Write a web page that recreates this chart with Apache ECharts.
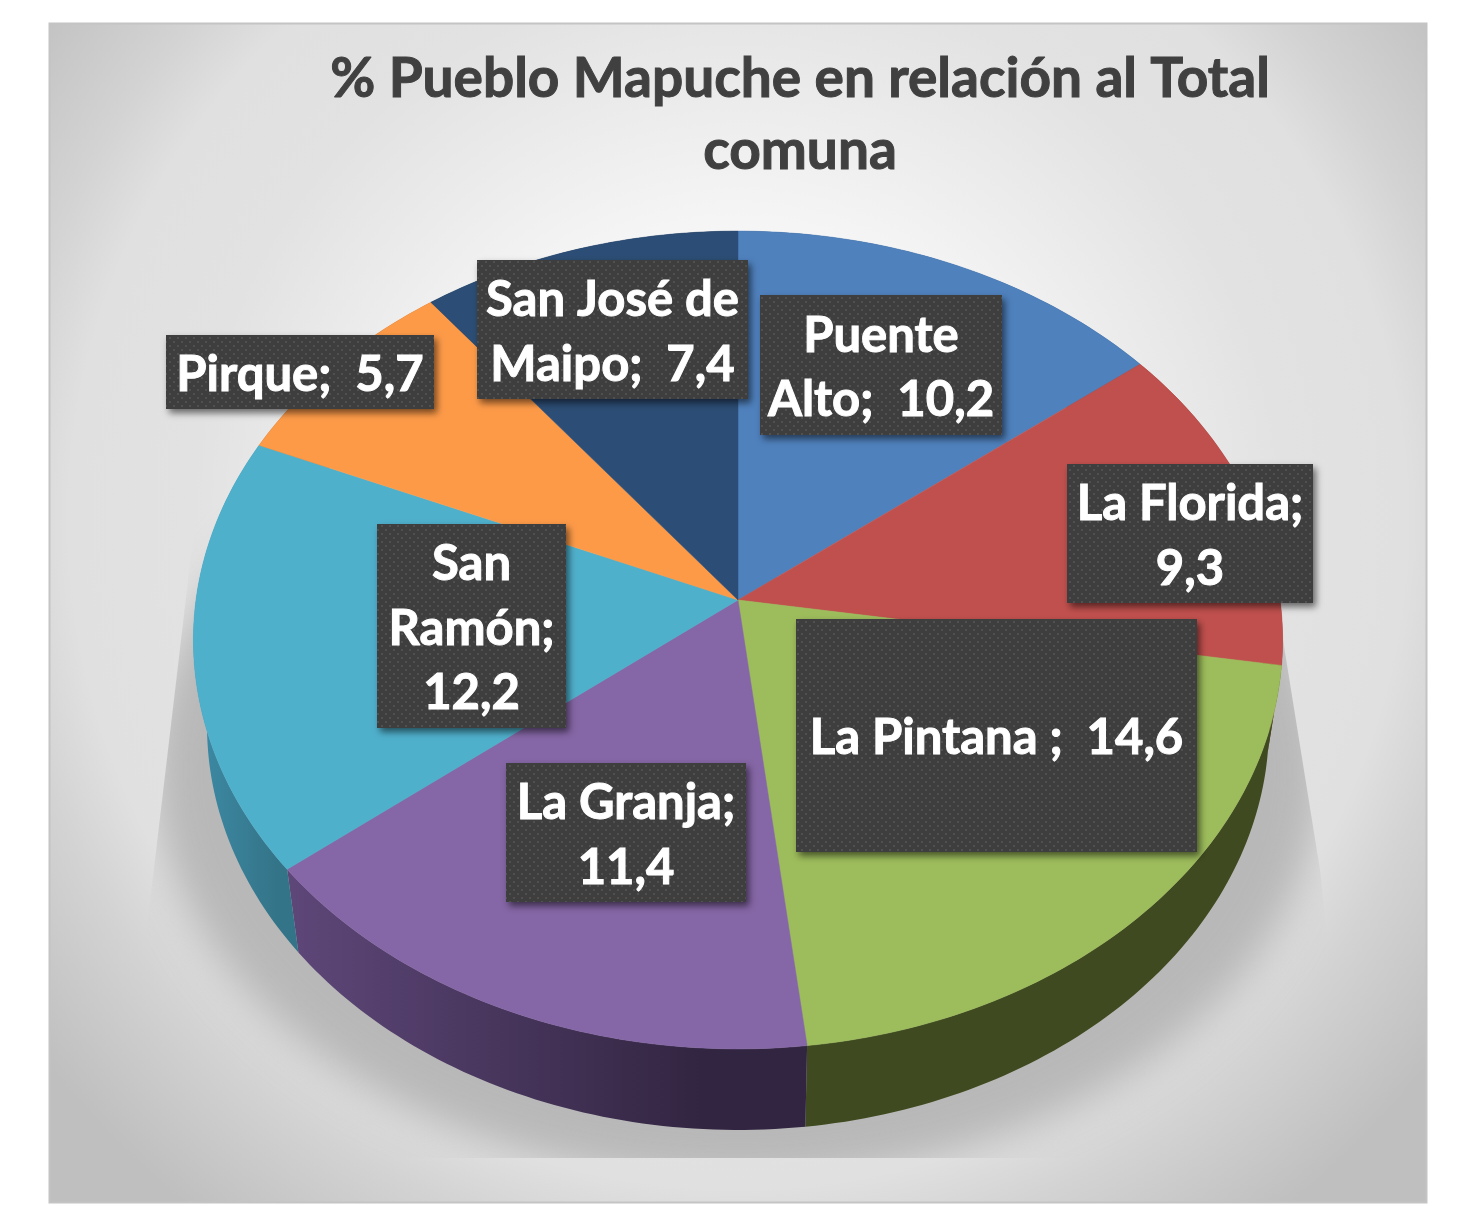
<!DOCTYPE html>
<html><head><meta charset="utf-8">
<style>html,body{margin:0;padding:0;background:#fff}#c{width:1463px;height:1206px}</style>
<script src="https://cdn.jsdelivr.net/npm/echarts@6/dist/echarts.min.js"></script>
</head><body><div id="c"></div>
<script>
const comunas = ['Puente Alto','La Florida','La Pintana','La Granja','San Ramón','Pirque','San José de Maipo'];
const valores = [10.2, 9.3, 14.6, 11.4, 12.2, 5.7, 7.4];
const etiquetas = ['Puente\nAlto;  10,2','La Florida;\n9,3','La Pintana ;  14,6','La Granja;\n11,4','San\nRamón;\n12,2','Pirque;  5,7','San José de\nMaipo;  7,4'];
const titulo = '% Pueblo Mapuche en relación al Total\ncomuna';
const coloresCara = ['#4f81bd','#c0504d','#9dbc5b','#8566a6','#4fb0cc','#fd9a48','#2c4d75'];
const coloresLado = [
  ['#2f4d71','#2f4d71'],['#733030','#733030'],['#3f4a20','#3f4a20'],
  ['#5e4779','#322541'],['#3d8ba6','#347488'],['#975a2a','#975a2a'],['#1a2e46','#1a2e46']];
// Label boxes: [left, top, right, bottom]
const cajas = [[760,295,1002,435],[1067,464,1313,603],[796,619,1197,852],[506,763,746,902],[377,524,566,728],[166,335,434,409],[477,260,748,399]];

// Perspective of the pie disc
const CX=738, CY=600, A=542, B=405, K=0.0978, SXB=0.975, SYB=0.989, CYB=686;
function proj(deg, sx, sy, cy){
  const t=deg*Math.PI/180, w=1+K*Math.cos(t);
  return [CX+sx*A*Math.sin(t)/w, cy-sy*B*Math.cos(t)/w];
}
const total = valores.reduce((a,b)=>a+b,0);
function rango(i){
  let acc=0; for(let j=0;j<i;j++) acc+=valores[j];
  return [acc/total*360,(acc+valores[i])/total*360];
}
function arco(a0,a1,sx,sy,cy){
  const pts=[], n=Math.max(2,Math.ceil(a1-a0));
  for(let i=0;i<=n;i++) pts.push(proj(a0+(a1-a0)*i/n,sx,sy,cy));
  return pts;
}
function renderLado(params,api){
  const i=params.dataIndex, v=api.value(1);
  const [a0]=rango(i), a1=a0+v/total*360;
  const pts=arco(a0,a1,1,1,CY).concat(arco(a0,a1,SXB,SYB,CYB).reverse());
  return {type:'polygon',shape:{points:pts},style:{fill:{type:'linear',x:0,y:0,x2:1,y2:0,colorStops:[
    {offset:0,color:coloresLado[i][0]},{offset:0.8,color:coloresLado[i][1]},{offset:1,color:coloresLado[i][1]}]}}};
}
function renderCara(params,api){
  const i=params.dataIndex, v=api.value(1);
  const [a0]=rango(i), a1=a0+v/total*360;
  const pts=[[CX,CY]].concat(arco(a0,a1,1,1,CY));
  return {type:'polygon',shape:{points:pts},style:{fill:coloresCara[i],stroke:coloresCara[i],lineWidth:0.5}};
}
// Dotted texture of the label boxes
const pat=document.createElement('canvas'); pat.width=8; pat.height=8;
(function(){const c=pat.getContext('2d');c.fillStyle='#3e3e3e';c.fillRect(0,0,8,8);c.fillStyle='#505050';c.fillRect(1,1,2,2);c.fillRect(5,5,2,2);})();
function renderEtiqueta(params,api){
  const i=params.dataIndex, b=cajas[i];
  return {type:'group',children:[
    {type:'rect',shape:{x:b[0],y:b[1],width:b[2]-b[0],height:b[3]-b[1]},
     style:{fill:{image:pat,repeat:'repeat'},shadowBlur:7,shadowOffsetX:3,shadowOffsetY:4,shadowColor:'rgba(0,0,0,0.55)'}},
    {type:'text',style:{x:(b[0]+b[2])/2,y:(b[1]+b[3])/2+3,text:etiquetas[i],align:'center',verticalAlign:'middle',
      font:'bold 49px Lato',lineHeight:64.5,fill:'#ffffff',stroke:'#ffffff',lineWidth:1}}
  ]};
}
// Soft floor shadow below the disc
const sombra=document.createElement('canvas'); sombra.width=1463; sombra.height=1206;
(function(){
  const c=sombra.getContext('2d');
  c.beginPath();c.moveTo(197,505);c.lineTo(155,860);c.lineTo(120,1158);c.lineTo(1350,1158);c.lineTo(1320,870);c.lineTo(1283,640);c.closePath();c.clip();
  c.filter='blur(20px)';c.fillStyle='#b8b8b8';
  c.beginPath();c.ellipse(738,770,585,412,0,0,Math.PI*2);c.fill();
})();
const chart=echarts.init(document.getElementById('c'),null,{renderer:'canvas'});
const datos=valores.map((v,i)=>({name:comunas[i],value:[i,v]}));
chart.setOption({
  animation:false,
  title:{text:titulo,left:795,top:38,textAlign:'center',
    textStyle:{fontFamily:'Lato',fontWeight:'bold',fontSize:55,lineHeight:72,color:'#404040',textBorderColor:'#404040',textBorderWidth:1}},
  graphic:[
    {type:'rect',z:0,shape:{x:49.5,y:23.5,width:1377,height:1179},
     style:{stroke:'#c4c4c4',lineWidth:2,fill:{type:'radial',x:738,y:520,r:880,global:true,colorStops:[
       {offset:0,color:'#ffffff'},{offset:0.34,color:'#f5f5f5'},{offset:0.62,color:'#e2e2e2'},{offset:0.76,color:'#e0e0e0'},{offset:0.84,color:'#d3d3d3'},{offset:1,color:'#bfbfbf'}]}}},
    {type:'image',z:1,style:{image:sombra,x:0,y:0,width:1463,height:1206}}
  ],
  series:[
    {type:'custom',coordinateSystem:'none',z:2,renderItem:renderLado,data:datos,silent:true},
    {type:'custom',coordinateSystem:'none',z:3,renderItem:renderCara,data:datos,silent:true},
    {type:'custom',coordinateSystem:'none',z:4,renderItem:renderEtiqueta,data:datos,silent:true}
  ]
});
</script></body></html>
